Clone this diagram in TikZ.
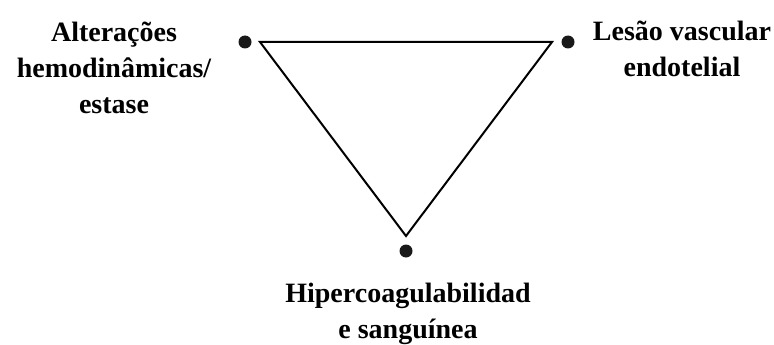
\documentclass[tikz,border=0pt]{standalone}
\usepackage{fontspec}
\setmainfont{Liberation Serif}
\usetikzlibrary{positioning}

\begin{document}
\begin{tikzpicture}[x=1pt,y=-1pt,
  dot/.style={circle,fill=black!90,inner sep=0pt,minimum size=13pt},
  lbl/.style={align=center,font=\bfseries\fontsize{28}{36}\selectfont}]
\useasboundingbox (0,0) rectangle (774,345);
\coordinate (tl) at (260,42);
\coordinate (tr) at (552,42);
\coordinate (tb) at (406,236);
\draw[line width=2pt,line join=miter] (tl)--(tr)--(tb)--cycle;
\node[dot] (dl) at (245,42) {};
\node[dot] (dr) at (568,42) {};
\node[dot] (db) at (406,251) {};
\node[lbl] (alt) at (114,68) {Alterações\\hemodinâmicas/\\estase};
\node[lbl] (les) at (682,49) {Lesão vascular\\endotelial};
\node[lbl] (hip) at (408,314) {Hipercoagulabilidad\\e sanguínea};
\end{tikzpicture}
\end{document}
